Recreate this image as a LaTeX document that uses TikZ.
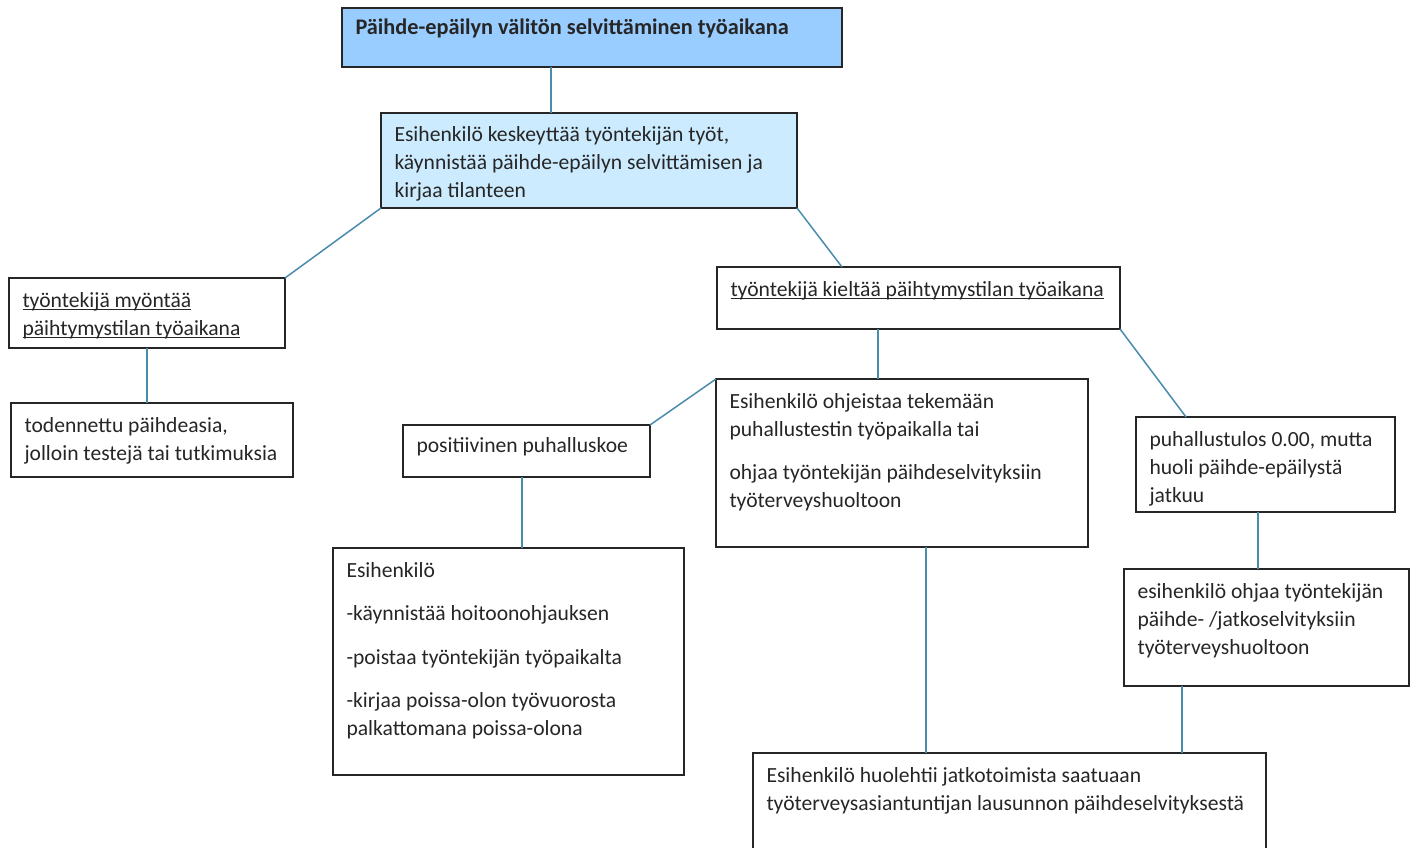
\documentclass[tikz,border=0pt]{standalone}
\usepackage{fontspec}
\setmainfont{Carlito}
\usepackage{tikz}
\definecolor{titleblue}{RGB}{153,204,255}
\definecolor{stepblue}{RGB}{204,235,255}
\definecolor{linkblue}{RGB}{74,140,172}
\definecolor{frame}{RGB}{38,38,38}
\newcommand{\boxtext}[4][29pt]{\parbox[t][#3][t]{#2}{\raggedright\hyphenpenalty=10000\exhyphenpenalty=10000\rule{0pt}{#1}#4}}
\newcommand{\uln}[1]{\leavevmode\setbox0\hbox{#1}\rlap{\rule[-3pt]{\wd0}{1.1pt}}\box0}

\begin{document}
\begin{tikzpicture}[x=1pt, y=-1pt,
    flowbox/.style={draw=frame, line width=1.3pt, text=frame, inner xsep=13.5pt, inner ysep=0pt,
      outer sep=0pt, anchor=north west, font=\fontsize{21.6}{28}\selectfont},
    link/.style={draw=linkblue, line width=1.5pt}]
  \useasboundingbox (0,0) rectangle (1416,848);
  \clip (0,0) rectangle (1416,848);

  \node[flowbox, fill=titleblue] (title) at (342,8)
    {\boxtext[27pt]{473pt}{59pt}{\fontsize{22.3}{28}\selectfont\bfseries Päihde-epäilyn välitön selvittäminen työaikana}};
  \node[flowbox, fill=stepblue] (halt) at (381,113)
    {\boxtext{389pt}{95pt}{Esihenkilö keskeyttää työntekijän työt,\\ käynnistää päihde-epäilyn selvittämisen ja\\ kirjaa tilanteen}};
  \node[flowbox] (admit) at (9,278)
    {\boxtext{249pt}{70pt}{\uln{työntekijä myöntää}\\ \uln{päihtymystilan työaikana}}};
  \node[flowbox] (proven) at (11,403)
    {\boxtext{255pt}{74pt}{todennettu päihdeasia,\\ jolloin testejä tai tutkimuksia}};
  \node[flowbox] (deny) at (717,267)
    {\boxtext{376pt}{62pt}{\uln{työntekijä kieltää päihtymystilan työaikana}}};
  \node[flowbox] (positive) at (403,425)
    {\boxtext[27pt]{220pt}{52pt}{positiivinen puhalluskoe}};
  \node[flowbox] (instruct) at (716,379)
    {\boxtext{345pt}{168pt}{Esihenkilö ohjeistaa tekemään\\ puhallustestin työpaikalla tai\\[15.5pt] ohjaa työntekijän päihdeselvityksiin\\ työterveyshuoltoon}};
  \node[flowbox] (residual) at (1136,417)
    {\boxtext{232pt}{95pt}{puhallustulos 0.00, mutta\\ huoli päihde-epäilystä\\ jatkuu}};
  \node[flowbox] (actions) at (333,548)
    {\boxtext{324pt}{227pt}{Esihenkilö\\[15.5pt] -käynnistää hoitoonohjauksen\\[15.5pt] -poistaa työntekijän työpaikalta\\[15.5pt] -kirjaa poissa-olon työvuorosta\\ palkattomana poissa-olona}};
  \node[flowbox] (referral) at (1124,569)
    {\boxtext{258pt}{117pt}{esihenkilö ohjaa työntekijän\\ päihde- /jatkoselvityksiin\\ työterveyshuoltoon}};
  \node[flowbox] (followup) at (753,753)
    {\boxtext{486pt}{110pt}{Esihenkilö huolehtii jatkotoimista saatuaan\\ työterveysasiantuntijan lausunnon päihdeselvityksestä}};

  \draw[link] ([xshift=209pt]title.south west) -- ([xshift=170pt]halt.north west);
  \draw[link] (halt.south west) -- (admit.north east);
  \draw[link] (halt.south east) -- ([xshift=125pt]deny.north west);
  \draw[link] ([xshift=138pt]admit.south west) -- ([xshift=136pt]proven.north west);
  \draw[link] ([xshift=161pt]deny.south west) -- ([xshift=162pt]instruct.north west);
  \draw[link] (deny.south east) -- ([xshift=50pt]residual.north west);
  \draw[link] (instruct.north west) -- (positive.north east);
  \draw[link] ([xshift=119pt]positive.south west) -- ([xshift=189pt]actions.north west);
  \draw[link] ([xshift=122pt]residual.south west) -- ([xshift=134pt]referral.north west);
  \draw[link] ([xshift=210pt]instruct.south west) -- ([xshift=173pt]followup.north west);
  \draw[link] ([xshift=58pt]referral.south west) -- ([xshift=429pt]followup.north west);
\end{tikzpicture}
\end{document}
